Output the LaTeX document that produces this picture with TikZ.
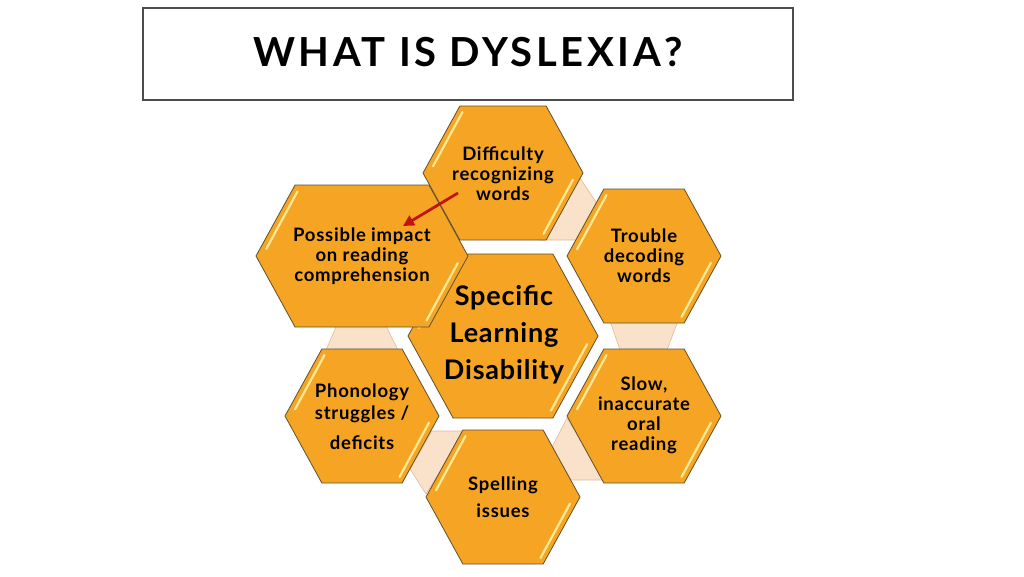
\documentclass[tikz,border=0pt]{standalone}
\usepackage{fontspec}
\setmainfont{Lato}
\usetikzlibrary{arrows.meta}

\definecolor{cellorange}{RGB}{245,165,35}
\definecolor{celledge}{RGB}{95,80,45}
\definecolor{glosscream}{RGB}{255,232,150}
\definecolor{bridgepeach}{RGB}{250,225,202}
\definecolor{bridgeedge}{RGB}{222,188,150}
\definecolor{pointred}{RGB}{195,20,20}

% x, y, half width, half height
\newcommand{\hexcell}[4]{%
  \begin{scope}[shift={(#1,#2)}]
    \draw[cellfill] (-#3,0) -- (-#3+0.55*#4,-#4) -- (#3-0.55*#4,-#4) -- (#3,0)
      -- (#3-0.55*#4,#4) -- (-#3+0.55*#4,#4) -- cycle;
    \draw[gloss] (-#3+0.06*#4+6,-0.1*#4) -- (-#3+0.5*#4+6,-0.91*#4);
    \draw[gloss] (#3-0.06*#4-6,0.1*#4) -- (#3-0.5*#4-6,0.91*#4);
  \end{scope}}

\begin{document}
\begin{tikzpicture}[x=1pt,y=-1pt,
    cellfill/.style={fill=cellorange, draw=celledge, line width=0.8pt, line join=miter},
    gloss/.style={draw=glosscream, line width=2.2pt, line cap=round},
    bridge/.style={fill=bridgepeach, draw=bridgeedge, line width=0.6pt},
    celltext/.style={align=center, inner sep=0pt, font=\fontsize{18.5}{20}\selectfont\bfseries\addfontfeature{LetterSpace=4}},
    bigtext/.style={align=center, inner sep=0pt, font=\fontsize{27}{37}\selectfont\bfseries\addfontfeature{LetterSpace=3}},
    pointer/.style={draw=pointred, line width=2.8pt, -{Triangle[length=11pt,width=11pt]}}]
            \useasboundingbox (0,0) rectangle (1024,576);

            % title
            \draw[draw=black!70, line width=2.4pt] (143,8) rectangle (793,100);
            \node[font=\fontsize{40}{40}\selectfont\bfseries\addfontfeature{LetterSpace=9}] (title) at (468,52) {WHAT IS DYSLEXIA?};

            % bridges behind the cells
            \draw[bridge] (580,178) -- (598,205) -- (578,240) -- (540,240) -- cycle;
            \draw[bridge] (338,322) -- (384,322) -- (398,350) -- (326,350) -- cycle;
            \draw[bridge] (610,321) -- (678,321) -- (667,350) -- (620,350) -- cycle;
            \draw[bridge] (432,431) -- (465,431) -- (426,494) -- (410,469) -- cycle;
            \draw[bridge] (552,447) -- (567,418) -- (605,480) -- (571,480) -- cycle;

            % cells
            \hexcell{503}{336}{95}{82}
            \hexcell{503}{173}{80}{67}
            \hexcell{644}{256}{77}{67}
            \hexcell{362}{416}{77}{67}
            \hexcell{644}{416}{77}{67}
            \hexcell{503}{497}{77}{67}
            \hexcell{362}{256}{106}{71}

            \node[celltext] (difficulty) at (503,174) {Difficulty\\recognizing\\words};
            \node[celltext] (impact) at (362,256) {Possible impact\\on reading\\comprehension};
            \node[celltext] (decoding) at (644,256) {Trouble\\decoding\\words};
            \node[bigtext] (center) at (504,335) {Specific\\Learning\\Disability};
            \node[celltext] (phonology) at (362,417) {Phonology\\[2pt]struggles /\\[10pt]deficits};
            \node[celltext] (oral) at (644,415) {Slow,\\inaccurate\\oral\\reading};
            \node[celltext] (spelling) at (503,497) {Spelling\\[7pt]issues};

            \coordinate (tail) at (458,193);
            \coordinate (tip) at (403,226);
            \draw[pointer] (tail) -- (tip);
\end{tikzpicture}
\end{document}
